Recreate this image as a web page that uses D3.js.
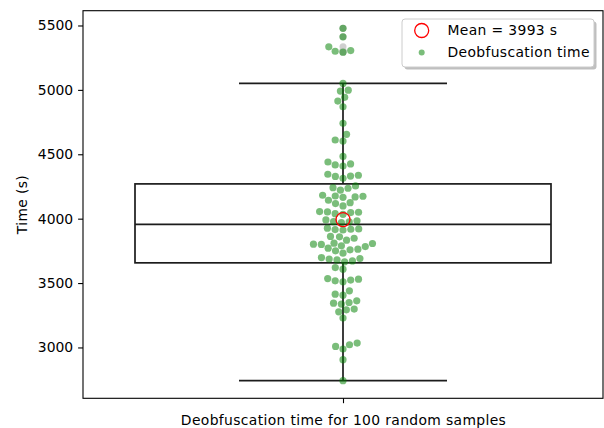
<!DOCTYPE html>
<html>
    <head>
        <title>Deobfuscation time</title>
        <script src="https://d3js.org/d3.v7.min.js"></script>
        <style>
            body { margin: 0; background: white; }
            text { font-family: "DejaVu Sans", sans-serif; }
        </style>
    </head>
    <body>
        <div class="chart"></div>
        <script>
            // deobfuscation time (s) of each sample
            let times = [
                5478, 5412, 5334, 5305, 5293, 5300,
                5050, 4998, 4991, 4942, 4913, 4869, 4740, 4655, 4611, 4603,
                4483, 4440, 4425, 4417, 4409,
                4345, 4331, 4314, 4328, 4337,
                4254, 4221, 4241, 4236,
                4182, 4176, 4174, 4169, 4166,
                4124, 4117, 4143, 4099,
                4055, 4047, 4039, 4034, 4050, 4052,
                3990, 3977, 3975, 3969, 3983,
                3918, 3920, 3915, 3926, 3912,
                3859, 3833, 3848, 3862,
                3807, 3802, 3789, 3771, 3783, 3800, 3810,
                3732, 3758, 3750, 3763,
                3665, 3672, 3686, 3690, 3698, 3680,
                3608, 3620,
                3530, 3510, 3517, 3523, 3535,
                3440, 3414, 3406,
                3344, 3337, 3349, 3362,
                3277, 3292, 3298,
                3228,
                3008, 2988, 3021, 3034,
                2905, 2742
            ];
            let category = "Deobfuscation time for 100 random samples";
            let whiskerLow = 2742;
            let q1 = 3657;
            let median = 3956;
            let q3 = 4270;
            let whiskerHigh = 5050;
            let meanTime = 3993;
            let yTicks = [3000, 3500, 4000, 4500, 5000, 5500];
            let legendLabels = ["Mean = 3993 s", "Deobfuscation time"];

            let width = 604;
            let height = 428;
            let plotLeft = 83, plotRight = 603, plotTop = 10.7, plotBottom = 398.3;
            let r = 3.75;
            let fontSize = "13.9px";
            let spacing = "0.35px";
            let lineColor = "#1c1c1c";

            let svg = d3.select(".chart")
                .append("svg")
                .attr("width", width)
                .attr("height", height);

            let lo = d3.min(times), hi = d3.max(times);
            let pad = (hi - lo) * 0.05;

            let x = d3.scaleLinear()
                .domain([-0.5, 0.5])
                .range([plotLeft, plotRight]);

            let y = d3.scaleLinear()
                .domain([lo - pad, hi + pad])
                .range([plotBottom, plotTop]);

            // axes
            let yAxis = svg.append("g")
                .attr("transform", "translate(" + plotLeft + ",0)")
                .call(d3.axisLeft(y).tickValues(yTicks).tickSize(4.9).tickPadding(4.9).tickFormat(d3.format("d")));
            yAxis.select(".domain").remove();
            yAxis.selectAll("text").style("font-size", fontSize).style("fill", "black")
                .style("font-family", "DejaVu Sans");
            yAxis.selectAll("line").style("stroke", "black").style("stroke-width", 1.1);

            let xAxis = svg.append("g")
                .attr("transform", "translate(0," + plotBottom + ")")
                .call(d3.axisBottom(x).tickValues([0]).tickSize(4.9).tickPadding(11.5).tickFormat(() => category));
            xAxis.select(".domain").remove();
            xAxis.selectAll("text").style("font-size", fontSize).style("fill", "black")
                .style("font-family", "DejaVu Sans")
                .style("letter-spacing", spacing);
            xAxis.selectAll("line").style("stroke", "black").style("stroke-width", 1.1);

            svg.append("text")
                .attr("transform", "translate(26.5," + ((plotTop + plotBottom) / 2) + ") rotate(-90)")
                .style("text-anchor", "middle")
                .style("font-size", fontSize)
                .style("letter-spacing", spacing)
                .text("Time (s)");

            // box plot
            let cx = x(0);
            let box = svg.append("g")
                .style("stroke", lineColor)
                .style("stroke-width", 1.7)
                .style("fill", "none");

            box.append("rect")
                .attr("x", x(-0.4))
                .attr("y", y(q3))
                .attr("width", x(0.4) - x(-0.4))
                .attr("height", y(q1) - y(q3));

            box.append("line")
                .attr("x1", x(-0.4)).attr("x2", x(0.4))
                .attr("y1", y(median)).attr("y2", y(median));

            box.append("line")
                .attr("x1", cx).attr("x2", cx)
                .attr("y1", y(q3)).attr("y2", y(whiskerHigh));

            box.append("line")
                .attr("x1", cx).attr("x2", cx)
                .attr("y1", y(q1)).attr("y2", y(whiskerLow));

            [whiskerHigh, whiskerLow].forEach(function (w) {
                box.append("line")
                    .attr("x1", x(-0.2)).attr("x2", x(0.2))
                    .attr("y1", y(w)).attr("y2", y(w));
            });

            // fliers
            svg.selectAll(".flier")
                .data(times.filter(d => d > whiskerHigh || d < whiskerLow))
                .enter()
                .append("circle")
                .attr("class", "flier")
                .attr("cx", cx)
                .attr("cy", d => y(d))
                .attr("r", 3.5)
                .style("fill", "#cfcfcf");

            // swarm layout, same idea as seaborn's beeswarm
            function swarm(values) {
                let pts = values.slice().sort((a, b) => a - b).map(v => ({ v: v, x: cx, y: y(v) }));
                let placed = [pts[0]];
                for (let i = 1; i < pts.length; i++) {
                    let p = pts[i];
                    let neighbors = [];
                    for (let j = placed.length - 1; j >= 0; j--) {
                        if (Math.abs(p.y - placed[j].y) < 2 * r) neighbors.push(placed[j]);
                        else break;
                    }
                    let cands = [cx];
                    let leftFirst = true;
                    neighbors.forEach(function (q) {
                        let dy = p.y - q.y;
                        let dx = Math.sqrt(Math.max(4 * r * r - dy * dy, 0)) * 1.05;
                        if (leftFirst) cands.push(q.x - dx, q.x + dx);
                        else cands.push(q.x + dx, q.x - dx);
                        leftFirst = !leftFirst;
                    });
                    cands.sort((a, b) => Math.abs(a - cx) - Math.abs(b - cx));
                    let ok = cands.find(c => neighbors.every(q => (c - q.x) * (c - q.x) + (p.y - q.y) * (p.y - q.y) >= 4 * r * r - 1e-6));
                    p.x = ok === undefined ? cx : ok;
                    placed.push(p);
                }
                return placed;
            }

            svg.selectAll(".dot")
                .data(swarm(times))
                .enter()
                .append("circle")
                .attr("class", "dot")
                .attr("cx", d => d.x)
                .attr("cy", d => d.y)
                .attr("r", 3.6)
                .style("fill", "green")
                .style("opacity", 0.52);

            // mean marker
            svg.append("circle")
                .attr("cx", cx)
                .attr("cy", y(meanTime))
                .attr("r", 7)
                .style("fill", "none")
                .style("stroke", "red")
                .style("stroke-width", 1.3);

            // frame
            svg.append("rect")
                .attr("x", plotLeft)
                .attr("y", plotTop)
                .attr("width", plotRight - plotLeft)
                .attr("height", plotBottom - plotTop)
                .style("fill", "none")
                .style("stroke", "black")
                .style("stroke-width", 1.1);

            // legend
            let legend = svg.append("g").attr("transform", "translate(402,19)");
            legend.append("rect")
                .attr("x", 2.5).attr("y", 2.5)
                .attr("width", 192).attr("height", 48)
                .attr("rx", 3)
                .style("fill", "#7f7f7f")
                .style("opacity", 0.5);
            legend.append("rect")
                .attr("width", 192).attr("height", 48)
                .attr("rx", 3)
                .style("fill", "white")
                .style("stroke", "#cccccc");

            legend.append("circle")
                .attr("cx", 19.7).attr("cy", 11.5)
                .attr("r", 7)
                .style("fill", "none")
                .style("stroke", "red")
                .style("stroke-width", 1.3);
            legend.append("circle")
                .attr("cx", 19.7).attr("cy", 33.5)
                .attr("r", 3)
                .style("fill", "green")
                .style("opacity", 0.52);

            legend.selectAll(".label")
                .data(legendLabels)
                .enter()
                .append("text")
                .attr("class", "label")
                .attr("x", 45.5)
                .attr("y", (d, i) => 11.5 + i * 22)
                .attr("dy", "0.35em")
                .style("font-size", fontSize)
                .style("letter-spacing", spacing)
                .text(d => d);
        </script>
    </body>
</html>
